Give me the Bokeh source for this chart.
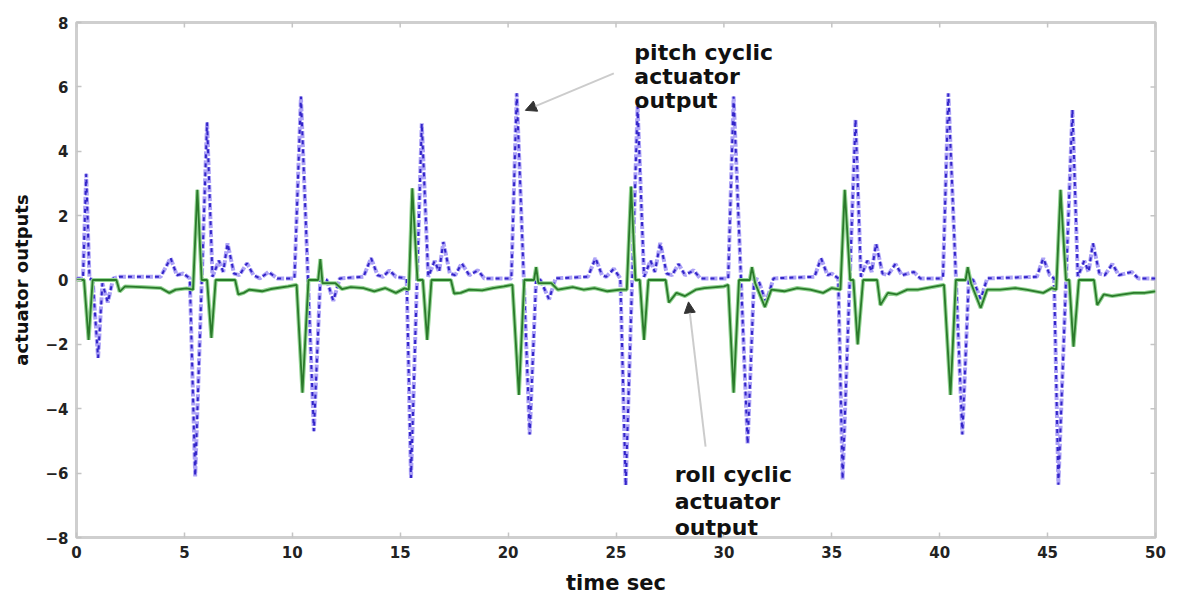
import math
from bokeh.plotting import figure
from bokeh.models import FixedTicker, Label, Arrow, NormalHead
from bokeh.embed import file_html
from bokeh.resources import INLINE

# ---------------- data ----------------
x_ticks = [0, 5, 10, 15, 20, 25, 30, 35, 40, 45, 50]
y_ticks = [-8, -6, -4, -2, 0, 2, 4, 6, 8]

pitch_t = [0.0, 0.3, 0.45, 0.6, 0.75, 1.0, 1.2, 1.45, 1.7, 2.0, 3.9, 4.36, 4.65, 4.95, 5.25,
           5.5, 6.05, 6.3, 6.6, 6.8, 7.0, 7.3, 7.55, 7.9, 8.2, 8.5, 8.9, 9.3, 10.1,
           10.4, 11.0, 11.3, 11.6, 11.9, 12.2, 13.3, 13.65, 13.95, 14.2, 14.5, 14.8, 15.3,
           15.5, 16.0, 16.3, 16.6, 16.8, 17.0, 17.3, 17.55, 17.85, 18.2, 18.6, 18.9, 20.15,
           20.4, 21.0, 21.3, 21.5, 21.9, 22.2, 23.7, 24.05, 24.35, 24.55, 24.9, 25.2,
           25.45, 26.0, 26.3, 26.6, 26.8, 27.05, 27.35, 27.6, 27.9, 28.2, 28.6, 28.9, 30.2,
           30.45, 31.1, 31.4, 31.6, 31.95, 32.3, 34.2, 34.5, 34.8, 35.0, 35.3,
           35.5, 36.1, 36.35, 36.65, 36.85, 37.05, 37.35, 37.6, 37.95, 38.25, 38.8, 39.1, 40.15,
           40.4, 41.05, 41.35, 41.55, 41.9, 42.2, 44.5, 44.8, 45.1, 45.3,
           45.5, 46.15, 46.4, 46.7, 46.9, 47.1, 47.4, 47.65, 48.0, 48.3, 48.9, 49.2, 50.0]
pitch_v = [0.05, 0.05, 3.3, 0.05, 0.0, -2.42, -0.1, -0.7, 0.05, 0.1, 0.1, 0.68, 0.15, 0.2, 0.05,
           -6.1, 4.9, 0.1, 0.6, 0.25, 1.14, 0.2, 0.15, 0.52, 0.15, 0.05, 0.25, 0.05, 0.05,
           5.7, -4.7, 0.05, 0.0, -0.65, 0.05, 0.1, 0.68, 0.15, 0.1, 0.3, 0.1, 0.05,
           -6.15, 4.87, 0.1, 0.6, 0.25, 1.18, 0.2, 0.15, 0.52, 0.15, 0.3, 0.05, 0.05,
           5.8, -4.8, 0.05, 0.0, -0.6, 0.05, 0.1, 0.68, 0.15, 0.1, 0.35, 0.05,
           -6.4, 5.4, 0.1, 0.6, 0.25, 1.15, 0.2, 0.15, 0.5, 0.15, 0.3, 0.05, 0.05,
           5.7, -5.1, 0.05, 0.0, -0.7, 0.05, 0.1, 0.68, 0.15, 0.2, 0.05,
           -6.2, 5.0, 0.1, 0.6, 0.25, 1.14, 0.2, 0.15, 0.5, 0.15, 0.25, 0.05, 0.05,
           5.8, -4.8, 0.05, 0.0, -0.6, 0.05, 0.1, 0.68, 0.15, 0.05,
           -6.36, 5.3, 0.1, 0.6, 0.25, 1.14, 0.2, 0.15, 0.5, 0.15, 0.25, 0.05, 0.05]

roll_t = [0.0, 0.35, 0.56, 0.75, 1.85, 2.0, 2.25, 3.0, 3.9, 4.3, 4.6, 5.1, 5.4,
          5.6, 5.8, 6.05, 6.25, 6.45, 7.35, 7.5, 7.75, 8.0, 8.6, 9.0, 9.8, 10.2,
          10.47, 10.75, 11.2, 11.3, 11.4, 12.0, 12.3, 12.7, 13.3, 13.8, 14.3, 14.8, 15.2, 15.4,
          15.56, 15.8, 16.05, 16.25, 16.45, 17.35, 17.5, 17.8, 18.2, 18.8, 19.3, 19.8, 20.2,
          20.5, 20.75, 21.2, 21.3, 21.4, 22.0, 22.3, 23.0, 23.5, 24.0, 24.6, 25.2, 25.5,
          25.7, 25.9, 26.1, 26.3, 26.5, 27.3, 27.45, 27.8, 28.2, 28.7, 29.1, 30.0, 30.2,
          30.45, 30.7, 31.2, 31.3, 31.45, 31.9, 32.2, 32.8, 33.4, 34.0, 34.6, 35.0, 35.4,
          35.6, 35.85, 36.0, 36.2, 36.45, 37.1, 37.25, 37.6, 38.0, 38.5, 39.0, 39.8, 40.2,
          40.5, 40.75, 41.2, 41.3, 41.45, 41.9, 42.2, 42.8, 43.5, 44.0, 44.8, 45.2, 45.4,
          45.6, 45.85, 46.0, 46.2, 46.45, 47.15, 47.3, 47.6, 48.0, 48.5, 49.0, 49.5, 50.0]
roll_v = [0.0, 0.0, -1.86, 0.0, 0.0, -0.36, -0.2, -0.22, -0.25, -0.4, -0.3, -0.26, -0.3,
          2.8, 0.0, 0.0, -1.8, 0.0, 0.0, -0.45, -0.4, -0.3, -0.35, -0.28, -0.2, -0.15,
          -3.5, 0.0, 0.0, 0.65, -0.1, -0.1, -0.28, -0.22, -0.25, -0.35, -0.25, -0.4, -0.26, -0.3,
          2.85, 0.0, 0.0, -1.86, 0.0, 0.0, -0.42, -0.4, -0.3, -0.32, -0.25, -0.2, -0.15,
          -3.57, 0.0, 0.0, 0.4, -0.1, -0.1, -0.3, -0.22, -0.3, -0.25, -0.35, -0.3, -0.3,
          2.9, 0.0, 0.0, -1.86, 0.0, 0.0, -0.7, -0.4, -0.5, -0.3, -0.25, -0.2, -0.15,
          -3.5, 0.0, 0.0, 0.4, -0.1, -0.84, -0.3, -0.35, -0.25, -0.3, -0.4, -0.25, -0.3,
          2.8, 0.0, 0.0, -2.0, 0.0, 0.0, -0.78, -0.4, -0.45, -0.3, -0.3, -0.2, -0.15,
          -3.57, 0.0, 0.0, 0.4, -0.1, -0.87, -0.3, -0.3, -0.25, -0.3, -0.4, -0.25, -0.3,
          2.8, 0.0, 0.0, -2.07, 0.0, 0.0, -0.78, -0.45, -0.5, -0.45, -0.4, -0.4, -0.35]

# ---------------- figure ----------------
FONT = "DejaVu Sans"
X0, X1, Y0, Y1 = 0, 50, -8, 8
p = figure(width=1177, height=597, x_range=(X0, X1), y_range=(Y0, Y1),
           output_backend="svg", toolbar_location=None,
           min_border_left=76, min_border_right=22, min_border_top=22, min_border_bottom=59)
p.background_fill_color = "white"
p.border_fill_color = "white"
p.outline_line_color = "#cfcfcf"
p.outline_line_width = 3
p.xgrid.visible = False
p.ygrid.visible = False

for ax, ticks in ((p.xaxis[0], x_ticks), (p.yaxis[0], y_ticks)):
    ax.ticker = FixedTicker(ticks=ticks)
    ax.axis_line_color = None
    ax.major_tick_in = 5
    ax.major_tick_out = 0
    ax.minor_tick_in = 0
    ax.minor_tick_out = 0
    ax.major_tick_line_color = "#c4c4c4"
    ax.major_tick_line_width = 1.5
    ax.major_label_text_font = FONT
    ax.major_label_text_font_style = "bold"
    ax.major_label_text_color = "#222222"
    ax.major_label_text_font_size = "15px"
    ax.major_label_standoff = 8
    ax.axis_label_text_font = FONT
    ax.axis_label_text_font_style = "bold"
    ax.axis_label_text_color = "#111111"
    ax.axis_label_standoff = 10
p.xaxis[0].axis_label = "time sec"
p.yaxis[0].axis_label = "actuator outputs"
p.xaxis[0].axis_label_text_font_size = "21px"
p.yaxis[0].axis_label_text_font_size = "18px"

# mirrored tick marks on the top and right edges of the box (half of each dash is clipped)
p.scatter(x=x_ticks, y=[Y1] * len(x_ticks), marker="dash", angle=math.pi / 2, size=10,
          line_color="#c4c4c4", line_width=1.5)
p.scatter(x=[X1] * len(y_ticks), y=y_ticks, marker="dash", size=10,
          line_color="#c4c4c4", line_width=1.5)

# pitch (blue dashed)
p.line(pitch_t, pitch_v, line_color="#aca2f6", line_width=4, line_dash="7 2")
p.line(pitch_t, pitch_v, line_color="#3325c8", line_width=2, line_dash="4 5")
# roll (green solid)
p.line(roll_t, roll_v, line_color="#95d595", line_width=4)
p.line(roll_t, roll_v, line_color="#2a7a2a", line_width=1.8)

# annotations
def add_text(x, y, t):
    p.add_layout(Label(x=x, y=y, text=t, text_font=FONT, text_font_style="bold",
                       text_font_size="22px", text_color="#111111",
                       text_baseline="alphabetic", text_align="left"))

for i, t in enumerate(["pitch cyclic", "actuator", "output"]):
    add_text(25.85, 7.07 - i * 0.74, t)
for i, t in enumerate(["roll cyclic", "actuator", "output"]):
    add_text(27.72, -6.05 - i * 0.82, t)

p.add_layout(Arrow(end=NormalHead(size=11, fill_color="#333333", line_color="#333333"),
                   x_start=24.9, y_start=6.42, x_end=20.8, y_end=5.27,
                   line_color="#cccccc", line_width=2))
p.add_layout(Arrow(end=NormalHead(size=11, fill_color="#333333", line_color="#333333"),
                   x_start=29.15, y_start=-5.18, x_end=28.36, y_end=-0.68,
                   line_color="#cccccc", line_width=2))

open("out.html", "w").write(file_html(p, INLINE))
